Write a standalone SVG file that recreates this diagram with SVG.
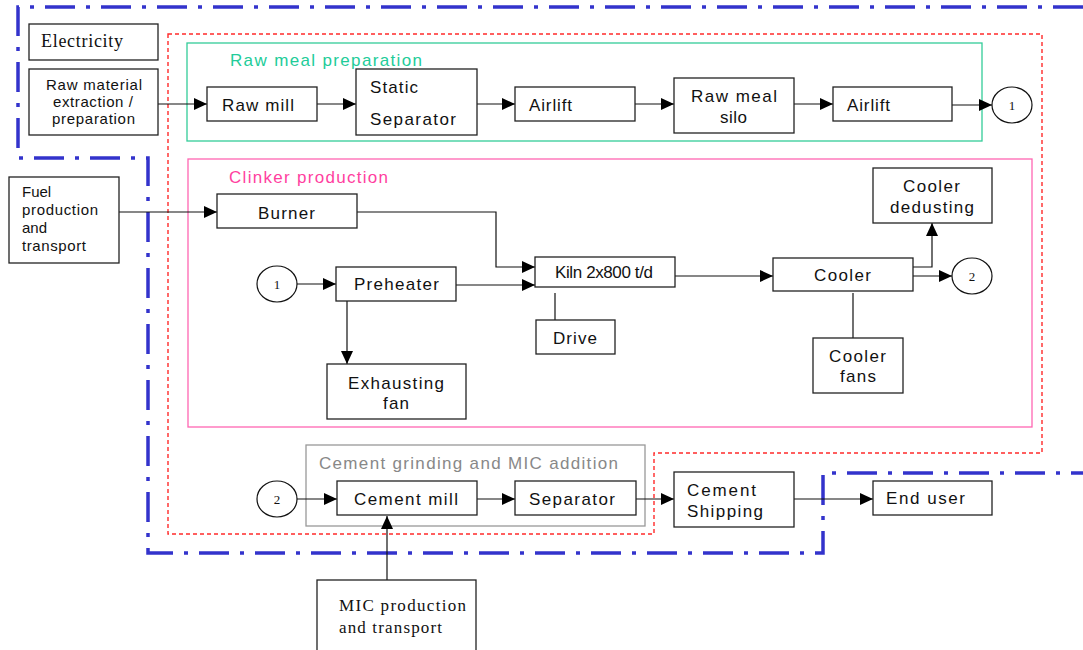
<svg xmlns="http://www.w3.org/2000/svg" width="1083" height="650" viewBox="0 0 1083 650">
<style>
.box{fill:#fff;stroke:#222;stroke-width:1.3}
.t{font-family:"Liberation Sans",Arial,sans-serif;font-size:17px;fill:#111}
.ts{font-family:"Liberation Sans",Arial,sans-serif;font-size:15px;fill:#111}
.serif{font-family:"Liberation Serif","Times New Roman",serif;fill:#111}
.c{stroke:#111;stroke-width:1.2;fill:none}
.a{marker-end:url(#arr)}
</style>
<defs>
<marker id="arr" markerUnits="userSpaceOnUse" markerWidth="14" markerHeight="12" refX="13" refY="6" orient="auto">
<path d="M0,0 L13,6 L0,12 Z" fill="#000"/>
</marker>
</defs>
<rect width="1083" height="650" fill="#fff"/>
<g id="boundaries">
<path d="M1083,7 H18 V158 H148 V553 H823 V473 H1083" fill="none" stroke="#3333cc" stroke-width="3.5" stroke-dasharray="30 11 4 11"/>
<path d="M168,34 H1042 V453 H654 V534 H168 Z" fill="none" stroke="#ff2a2a" stroke-width="1.4" stroke-dasharray="4 3"/>
</g>
<g id="raw-meal-preparation">
<rect x="187" y="43" width="795" height="98" fill="none" stroke="#33cc99" stroke-width="1.3"/>
<text x="230" y="66" font-family="Liberation Sans,Arial,sans-serif" font-size="17" fill="#22cc99" textLength="192" lengthAdjust="spacing">Raw meal preparation</text>
</g>
<g id="clinker-production">
<rect x="188" y="159" width="844" height="268" fill="none" stroke="#ff66b2" stroke-width="1.3"/>
<text x="229" y="183" font-family="Liberation Sans,Arial,sans-serif" font-size="17" fill="#ff3f9f" textLength="159" lengthAdjust="spacing">Clinker production</text>
</g>
<g id="cement-grinding">
<rect x="306" y="445" width="339" height="81" fill="none" stroke="#999" stroke-width="1.3"/>
<text x="319" y="469" font-family="Liberation Sans,Arial,sans-serif" font-size="17" fill="#888" textLength="299" lengthAdjust="spacing">Cement grinding and MIC addition</text>
</g>
<g id="connectors">
<path class="c a" d="M158,104 H207"/>
<path class="c a" d="M317,104 H356"/>
<path class="c a" d="M477,104 H515"/>
<path class="c a" d="M635,104 H674"/>
<path class="c a" d="M794,104 H833"/>
<path class="c a" d="M952,105 H992"/>
<path class="c a" d="M119,212 H217"/>
<path class="c a" d="M357,212 H496 V267 H535"/>
<path class="c a" d="M297,284 H336"/>
<path class="c a" d="M456,285 H535"/>
<path class="c a" d="M347,301 V364"/>
<path class="c" d="M555,293 V320"/>
<path class="c a" d="M675,276 H773"/>
<path class="c a" d="M913,267 H932 V223"/>
<path class="c a" d="M913,276 H952"/>
<path class="c" d="M853,293 V338"/>
<path class="c a" d="M297,499 H337"/>
<path class="c a" d="M477,499 H515"/>
<path class="c a" d="M636,499 H674"/>
<path class="c a" d="M794,499 H873"/>
<path class="c a" d="M387,580 V516"/>
</g>
<g id="electricity">
<rect class="box" x="29" y="24" width="129" height="36"/>
<text class="serif" x="41" y="47" font-size="18" textLength="82" lengthAdjust="spacing">Electricity</text>
</g>
<g id="raw-material">
<rect class="box" x="29" y="69" width="129" height="66"/>
<text class="ts" x="46" y="90" textLength="96" lengthAdjust="spacing">Raw material</text>
<text class="ts" x="53" y="107" textLength="80" lengthAdjust="spacing">extraction /</text>
<text class="ts" x="52" y="124" textLength="83" lengthAdjust="spacing">preparation</text>
</g>
<g id="raw-mill">
<rect class="box" x="207" y="87" width="110" height="34"/>
<text class="t" x="222" y="111" textLength="72" lengthAdjust="spacing">Raw mill</text>
</g>
<g id="static-separator">
<rect class="box" x="356" y="69" width="121" height="66"/>
<text class="t" x="370" y="93" textLength="48" lengthAdjust="spacing">Static</text>
<text class="t" x="370" y="125" textLength="86" lengthAdjust="spacing">Separator</text>
</g>
<g id="airlift-1">
<rect class="box" x="515" y="87" width="120" height="34"/>
<text class="t" x="529" y="111" textLength="43" lengthAdjust="spacing">Airlift</text>
</g>
<g id="raw-meal-silo">
<rect class="box" x="674" y="78" width="120" height="55"/>
<text class="t" x="691" y="102" textLength="86" lengthAdjust="spacing">Raw meal</text>
<text class="t" x="720" y="123" textLength="27" lengthAdjust="spacing">silo</text>
</g>
<g id="airlift-2">
<rect class="box" x="833" y="87" width="119" height="34"/>
<text class="t" x="847" y="111" textLength="43" lengthAdjust="spacing">Airlift</text>
</g>
<g id="circle-1-top">
<ellipse cx="1012" cy="105" rx="20" ry="18" fill="#fff" stroke="#111" stroke-width="1.2"/>
<text class="serif" x="1012" y="110" font-size="13" text-anchor="middle">1</text>
</g>
<g id="fuel">
<rect class="box" x="9" y="177" width="110" height="86"/>
<text class="ts" x="22" y="197">Fuel</text>
<text class="ts" x="22" y="215" textLength="76" lengthAdjust="spacing">production</text>
<text class="ts" x="22" y="233" textLength="25" lengthAdjust="spacing">and</text>
<text class="ts" x="22" y="251" textLength="64" lengthAdjust="spacing">transport</text>
</g>
<g id="burner">
<rect class="box" x="217" y="194" width="140" height="34"/>
<text class="t" x="258" y="219" textLength="57" lengthAdjust="spacing">Burner</text>
</g>
<g id="circle-1">
<ellipse cx="277" cy="284" rx="20" ry="18" fill="#fff" stroke="#111" stroke-width="1.2"/>
<text class="serif" x="277" y="289" font-size="13" text-anchor="middle">1</text>
</g>
<g id="preheater">
<rect class="box" x="336" y="267" width="120" height="34"/>
<text class="t" x="354" y="290" textLength="85" lengthAdjust="spacing">Preheater</text>
</g>
<g id="exhausting-fan">
<rect class="box" x="327" y="364" width="139" height="55"/>
<text class="t" x="348" y="389" textLength="96" lengthAdjust="spacing">Exhausting</text>
<text class="t" x="383" y="409" textLength="26" lengthAdjust="spacing">fan</text>
</g>
<g id="kiln">
<rect class="box" x="535" y="257" width="140" height="30"/>
<text class="t" x="555" y="278" font-size="14" textLength="98" lengthAdjust="spacing">Kiln 2x800 t/d</text>
</g>
<g id="drive">
<rect class="box" x="536" y="320" width="79" height="34"/>
<text class="t" x="553" y="344" textLength="44" lengthAdjust="spacing">Drive</text>
</g>
<g id="cooler">
<rect class="box" x="773" y="258" width="140" height="33"/>
<text class="t" x="814" y="281" textLength="57" lengthAdjust="spacing">Cooler</text>
</g>
<g id="cooler-dedusting">
<rect class="box" x="873" y="168" width="119" height="55"/>
<text class="t" x="903" y="192" textLength="57" lengthAdjust="spacing">Cooler</text>
<text class="t" x="890" y="213" textLength="84" lengthAdjust="spacing">dedusting</text>
</g>
<g id="circle-2">
<ellipse cx="972" cy="276" rx="20" ry="18" fill="#fff" stroke="#111" stroke-width="1.2"/>
<text class="serif" x="972" y="281" font-size="13" text-anchor="middle">2</text>
</g>
<g id="cooler-fans">
<rect class="box" x="813" y="338" width="90" height="55"/>
<text class="t" x="829" y="362" textLength="57" lengthAdjust="spacing">Cooler</text>
<text class="t" x="840" y="382" textLength="36" lengthAdjust="spacing">fans</text>
</g>
<g id="circle-2-bottom">
<ellipse cx="277" cy="499" rx="20" ry="18" fill="#fff" stroke="#111" stroke-width="1.2"/>
<text class="serif" x="277" y="504" font-size="13" text-anchor="middle">2</text>
</g>
<g id="cement-mill">
<rect class="box" x="337" y="481" width="140" height="34"/>
<text class="t" x="354" y="505" textLength="104" lengthAdjust="spacing">Cement mill</text>
</g>
<g id="separator">
<rect class="box" x="515" y="481" width="121" height="34"/>
<text class="t" x="529" y="505" textLength="86" lengthAdjust="spacing">Separator</text>
</g>
<g id="cement-shipping">
<rect class="box" x="674" y="472" width="120" height="55"/>
<text class="t" x="687" y="496" textLength="69" lengthAdjust="spacing">Cement</text>
<text class="t" x="687" y="517" textLength="76" lengthAdjust="spacing">Shipping</text>
</g>
<g id="end-user">
<rect class="box" x="873" y="481" width="119" height="34"/>
<text class="t" x="886" y="504" textLength="79" lengthAdjust="spacing">End user</text>
</g>
<g id="mic-production">
<rect class="box" x="317" y="580" width="159" height="80"/>
<text class="serif" x="339" y="611" font-size="17" textLength="127" lengthAdjust="spacing">MIC production</text>
<text class="serif" x="339" y="633" font-size="17" textLength="103" lengthAdjust="spacing">and transport</text>
</g>
</svg>
